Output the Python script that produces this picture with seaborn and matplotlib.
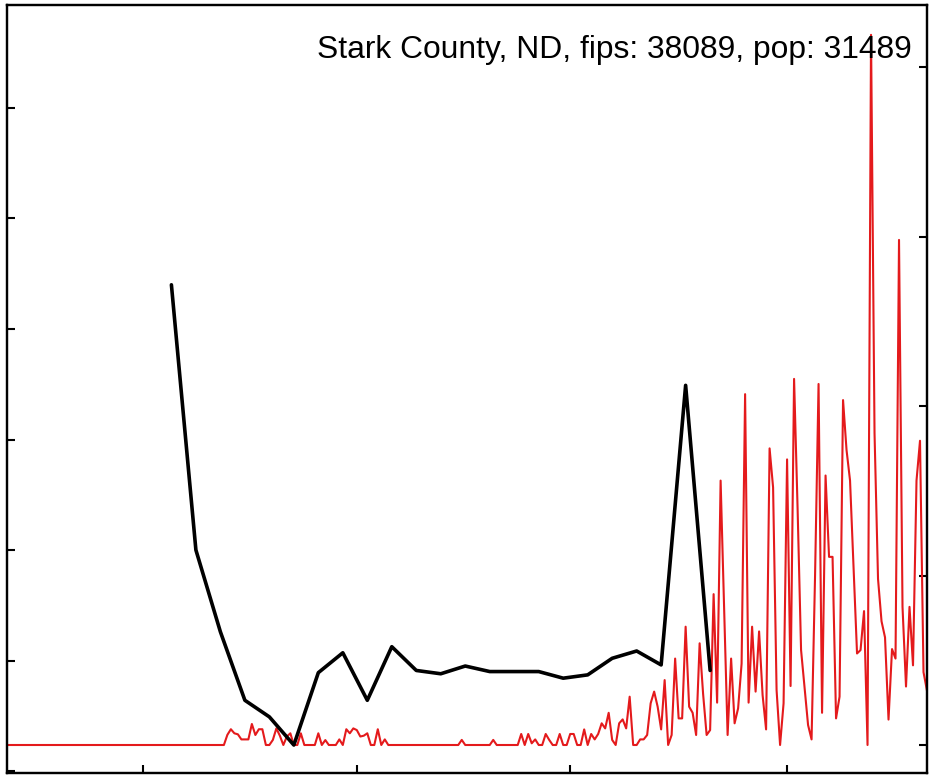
import matplotlib
matplotlib.use("Agg")
import matplotlib.pyplot as plt
import matplotlib.dates as mdates
import seaborn as sns
import pandas as pd
import numpy as np

# ---- data ----
title_text = "Stark County, ND, fips: 38089, pop: 31489"

# daily series (right axis), one value per day starting 2020-01-22
red_values = [
    0, 0, 0, 0, 0, 0, 0, 0, 0, 0,
    0, 0, 0, 0, 0, 0, 0, 0, 0, 0,
    0, 0, 0, 0, 0, 0, 0, 0, 0, 0,
    0, 0, 0, 0, 0, 0, 0, 0, 0, 0,
    0, 0, 0, 0, 0, 0, 0, 0, 0, 0,
    0, 0, 0, 0, 0, 0, 0, 0, 0, 0,
    0, 0,
    0, 0.6, 0.93, 0.69, 0.63, 0.33, 0.33, 0.33, 1.24, 0.59,
    0.93, 0.93, 0, 0, 0.3, 0.98, 0.55, 0, 0.5, 0.69,
    0, 0, 0.69, 0, 0, 0, 0, 0.69, 0, 0.29,
    0, 0, 0, 0.33, 0, 0.93, 0.69, 0.98, 0.88, 0.5,
    0.55, 0.69, 0, 0, 0.93, 0, 0.33,
    0, 0, 0, 0, 0, 0, 0, 0, 0, 0,
    0, 0, 0, 0, 0, 0, 0, 0, 0, 0, 0,
    0.3,
    0, 0, 0, 0, 0, 0, 0, 0,
    0.3,
    0, 0, 0, 0, 0, 0, 0,
    0.65, 0, 0.65, 0.1, 0.33, 0, 0, 0.65, 0.3, 0,
    0, 0.65, 0, 0, 0.65, 0.65, 0, 0, 0.92, 0,
    0.65, 0.33, 0.65, 1.28, 0.98, 1.9, 0.3, 0, 1.28, 1.51,
    0.98, 2.85, 0, 0, 0.33, 0.33, 0.59, 2.46, 3.15, 2.26,
    0.92, 3.83, 0, 0.59, 5.1, 1.57, 1.57, 6.98, 2.26, 1.9,
    0.59, 6.0, 3.0, 0.59, 0.88, 8.9, 2.5, 15.6, 8.0, 0.59,
    5.1, 1.28, 2.16, 4.8, 20.7, 2.5, 6.98, 3.15, 6.7, 2.95,
    0.92, 17.5, 15.2, 3.24, 0, 2.46, 16.85, 3.48, 21.6, 14.0,
    5.6, 3.4, 1.18, 0.33, 10.0, 21.3, 1.9, 15.9, 11.1, 11.1,
    1.57, 2.85, 20.35, 17.4, 15.6, 10.5, 5.4, 5.6, 7.9, 0,
    41.9, 18.4, 9.8, 7.3, 6.35, 1.5, 5.66, 5.1, 29.8, 8.15,
    3.45, 8.15, 4.7, 15.6, 17.95, 4.3, 3.2,
]
red_start = "2020-01-22"

# weekly series (left axis), starting 2020-03-09
black_values = [4.40, 2.00, 1.26, 0.64, 0.49, 0.235, 0.89, 1.07, 0.64, 1.125,
                0.91, 0.88, 0.95, 0.90, 0.90, 0.90, 0.84, 0.87, 1.02, 1.086,
                0.96, 3.49, 0.91]
black_start = "2020-03-09"

x_tick_dates = ["2020-03-01", "2020-05-01", "2020-07-01", "2020-09-01"]
left_ticks = [0, 1, 2, 3, 4, 5, 6]
right_ticks = [0, 10, 20, 30, 40]

red_df = pd.DataFrame({"date": pd.date_range(red_start, periods=len(red_values), freq="D"),
                       "value": red_values})
black_df = pd.DataFrame({"date": pd.date_range(black_start, periods=len(black_values), freq="7D"),
                         "value": black_values})

# ---- plot ----
sns.set_style("white")
plt.rcParams["font.family"] = ["Liberation Sans", "DejaVu Sans"]

fig = plt.figure(figsize=(9.33, 7.78), dpi=100)
ax = fig.add_axes([7 / 933, 5 / 778, 920 / 933, 768 / 778])
ax2 = ax.twinx()

sns.lineplot(data=red_df, x="date", y="value", ax=ax2, color="#E41A1C", linewidth=1.5)
sns.lineplot(data=black_df, x="date", y="value", ax=ax, color="black", linewidth=2.6)

ax.set_zorder(ax2.get_zorder() + 1)
ax.patch.set_visible(False)

ax.set_xlim(pd.Timestamp("2020-01-22"), pd.Timestamp("2020-10-11"))
ax.set_ylim(-0.018, 6.932)
ax2.set_ylim(-1.652, 43.66)

ax.set_xticks(pd.to_datetime(x_tick_dates))
ax.set_yticks(left_ticks)
ax2.set_yticks(right_ticks)

for a in (ax, ax2):
    a.set_xlabel("")
    a.set_ylabel("")
    for s in a.spines.values():
        s.set_color("black")
        s.set_linewidth(1.6)
    a.tick_params(direction="in", length=6, width=1.5, color="black",
                  labelbottom=False, labelleft=False, labelright=False)
ax.tick_params(axis="y", left=True, right=False)
ax.tick_params(axis="x", bottom=True, top=False)
ax2.tick_params(axis="y", right=True, left=False)
ax2.tick_params(axis="x", bottom=False, top=False)

ax.text(0.9837, 0.941, title_text, transform=ax.transAxes, ha="right", va="center",
        fontsize=22.9, color="black")

fig.savefig("out.png", dpi=100)
